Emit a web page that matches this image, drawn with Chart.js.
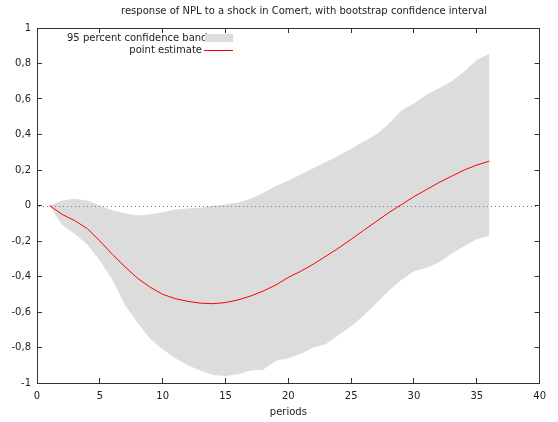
<!DOCTYPE html>
<html>
<head>
<meta charset="utf-8">
<script src="https://cdn.jsdelivr.net/npm/chart.js"></script>
<style>
  html, body { margin: 0; padding: 0; background: #fff; }
  #wrap { width: 558px; height: 422px; }
</style>
</head>
<body>
<div id="wrap"><canvas id="irf" width="558" height="422"></canvas></div>
<script>
// periods 1..36
const periods = [1, 2, 3, 4, 5, 6, 7, 8, 9, 10, 11, 12, 13, 14, 15, 16, 17, 18,
    19, 20, 21, 22, 23, 24, 25, 26, 27, 28, 29, 30, 31, 32, 33, 34, 35, 36];

// point estimate of the response
const pointEstimate = [0, -0.05, -0.085, -0.13, -0.2, -0.275, -0.345, -0.41, -0.46, -0.5,
    -0.525, -0.54, -0.55, -0.553, -0.547, -0.532, -0.51, -0.482, -0.448, -0.405,
    -0.37, -0.33, -0.285, -0.24, -0.19, -0.14, -0.09, -0.04, 0.005, 0.05,
    0.09, 0.13, 0.165, 0.2, 0.228, 0.25];

// bootstrap confidence band
const bandUpper = [0, 0.028, 0.038, 0.028, 0, -0.028, -0.043, -0.056, -0.05, -0.038,
    -0.023, -0.017, -0.013, -0.002, 0.006, 0.017, 0.038, 0.07, 0.11, 0.14,
    0.175, 0.21, 0.245, 0.28, 0.32, 0.36, 0.4, 0.46, 0.535, 0.575,
    0.625, 0.66, 0.7, 0.755, 0.82, 0.855];
const bandLower = [0, -0.11, -0.16, -0.22, -0.31, -0.42, -0.56, -0.66, -0.75, -0.81,
    -0.86, -0.9, -0.93, -0.955, -0.96, -0.95, -0.93, -0.925, -0.875, -0.86,
    -0.835, -0.8, -0.78, -0.73, -0.68, -0.62, -0.55, -0.48, -0.42, -0.37,
    -0.35, -0.32, -0.27, -0.23, -0.19, -0.17];

const xTicks = [0, 5, 10, 15, 20, 25, 30, 35, 40];
const yTicks = [-1, -0.8, -0.6, -0.4, -0.2, 0, 0.2, 0.4, 0.6, 0.8, 1];

const titleText = 'response of NPL to a shock in Comert, with bootstrap confidence interval';
const xLabel = 'periods';
const legendBand = '95 percent confidence band';
const legendLine = 'point estimate';

const FONT = '10px "DejaVu Sans"';
const BAND = '#dcdcdc';
const RED = '#ff0000';
const INK = '#222';
const FRAME = '#333';

const toXY = vals => periods.map((p, i) => ({ x: p, y: vals[i] }));
const comma = v => String(Math.round(v * 10) / 10).replace('.', ',');

// gnuplot style: border on all sides, short ticks pointing into the plot
const frameGrid = { display: true, drawOnChartArea: false, drawTicks: true, tickLength: -5, color: FRAME };
const frameBorder = { display: true, color: FRAME, width: 1 };
const tickFont = { family: 'DejaVu Sans', size: 10 };

const gnuplotLook = {
    id: 'gnuplotLook',
    afterDatasetDraw(chart, args) {
        if (args.index !== 1) return;
        // dotted zero line over the band, under the red line
        const { ctx, chartArea: a, scales } = chart;
        const y0 = Math.round(scales.y.getPixelForValue(0));
        ctx.save();
        ctx.fillStyle = '#777';
        for (let x = Math.round(a.left) + 2; x < a.right; x += 4) {
            ctx.fillRect(x, y0, 1, 1);
        }
        ctx.restore();
    },
    afterDraw(chart) {
        const { ctx, chartArea: a } = chart;
        ctx.save();
        // legend
        ctx.font = FONT;
        ctx.fillStyle = INK;
        ctx.textBaseline = 'middle';
        ctx.textAlign = 'left';
        ctx.fillText(legendBand, 67, 38.5);
        ctx.textAlign = 'right';
        ctx.fillText(legendLine, 202, 50);
        ctx.fillStyle = BAND;
        ctx.fillRect(205, 34, 28, 8);
        ctx.fillStyle = RED;
        ctx.fillRect(204, 50, 29, 1);

        // title and x label
        ctx.fillStyle = INK;
        ctx.textAlign = 'center';
        ctx.fillText(titleText, 304, 11);
        ctx.fillText(xLabel, (a.left + a.right) / 2, 412);
        ctx.restore();
    }
};

new Chart(document.getElementById('irf'), {
    type: 'line',
    data: {
        datasets: [
            {
                label: legendLine,
                data: toXY(pointEstimate),
                borderColor: RED,
                borderWidth: 1,
                pointRadius: 0,
                fill: false,
                order: 0
            },
            {
                label: 'upper',
                data: toXY(bandUpper),
                borderWidth: 0,
                borderColor: 'rgba(0,0,0,0)',
                backgroundColor: BAND,
                pointRadius: 0,
                fill: '+1',
                order: 1
            },
            {
                label: 'lower',
                data: toXY(bandLower),
                borderWidth: 0,
                borderColor: 'rgba(0,0,0,0)',
                pointRadius: 0,
                fill: false,
                order: 2
            }
        ]
    },
    options: {
        responsive: false,
        animation: false,
        devicePixelRatio: 1,
        layout: { padding: { top: 28, right: 11, left: 0, bottom: 0 } },
        plugins: {
            legend: { display: false },
            title: { display: false },
            tooltip: { enabled: false }
        },
        scales: {
            x: {
                type: 'linear',
                position: 'bottom',
                min: 0,
                max: 40,
                afterFit: s => { s.height = 39; },
                afterBuildTicks: s => { s.ticks = xTicks.map(v => ({ value: v })); },
                grid: frameGrid,
                border: frameBorder,
                ticks: { color: INK, font: tickFont, padding: 12, maxRotation: 0, callback: v => String(v) }
            },
            x2: {
                type: 'linear',
                position: 'top',
                min: 0,
                max: 40,
                afterFit: s => { s.height = 0; },
                afterBuildTicks: s => { s.ticks = xTicks.map(v => ({ value: v })); },
                grid: frameGrid,
                border: frameBorder,
                ticks: { display: false }
            },
            y: {
                position: 'left',
                min: -1,
                max: 1,
                afterFit: s => { s.width = 37; },
                afterBuildTicks: s => { s.ticks = yTicks.map(v => ({ value: v })); },
                grid: frameGrid,
                border: frameBorder,
                ticks: { color: INK, font: tickFont, padding: 11, callback: v => comma(v) }
            },
            y2: {
                position: 'right',
                min: -1,
                max: 1,
                afterFit: s => { s.width = 0; },
                afterBuildTicks: s => { s.ticks = yTicks.map(v => ({ value: v })); },
                grid: frameGrid,
                border: frameBorder,
                ticks: { display: false }
            }
        }
    },
    plugins: [gnuplotLook]
});
</script>
</body>
</html>
